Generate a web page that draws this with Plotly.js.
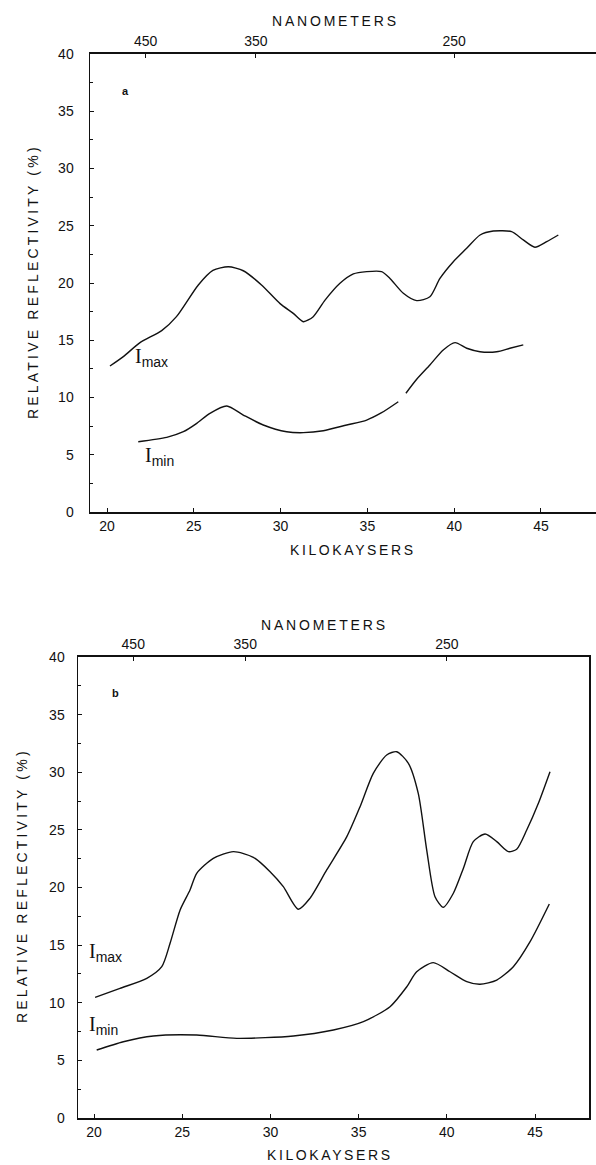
<!DOCTYPE html>
<html>
<head>
<meta charset="utf-8">
<script src="https://cdn.plot.ly/plotly-3.0.1.min.js"></script>
<style>
  html, body { margin: 0; padding: 0; background: #fff; }
  #chart { width: 596px; height: 1165px; }
</style>
</head>
<body>
<div id="chart"></div>
<script>
// ---- Panel a (top) ----
const topMaxX = [20.17, 20.94, 21.9, 23.15, 24.0, 25.26, 26.1, 26.99, 27.85, 28.9, 29.97, 30.73, 31.31, 31.88, 32.56, 33.42, 34.19, 34.96, 35.82, 36.3, 37.07, 37.84, 38.6, 39.18, 39.95, 40.72, 41.49, 42.25, 43.31, 43.98, 44.65, 45.33, 46.0];
const topMaxY = [12.75, 13.57, 14.79, 15.84, 17.06, 19.83, 21.1, 21.42, 21.07, 19.83, 18.2, 17.35, 16.62, 17.06, 18.5, 19.97, 20.79, 20.99, 20.99, 20.4, 19.1, 18.46, 18.8, 20.4, 21.86, 23.03, 24.19, 24.54, 24.48, 23.76, 23.12, 23.61, 24.19];
const topMinX = [21.8, 23.44, 24.4, 25.17, 25.93, 26.9, 27.85, 29.0, 30.35, 31.31, 32.46, 33.81, 34.96, 35.82, 36.78, null, 37.22, 37.84, 38.6, 39.37, 40.05, 40.72, 41.49, 42.45, 43.21, 43.98];
const topMinY = [6.14, 6.52, 7.01, 7.74, 8.62, 9.26, 8.47, 7.6, 7.01, 6.93, 7.1, 7.6, 8.03, 8.67, 9.63, null, 10.37, 11.59, 12.84, 14.15, 14.79, 14.3, 14.0, 14.0, 14.3, 14.59];

// ---- Panel b (bottom) ----
const botMaxX = [20.06, 21.47, 22.99, 23.84, 24.31, 24.88, 25.44, 25.82, 26.76, 27.9, 29.03, 29.98, 30.73, 31.58, 32.24, 33.19, 34.33, 35.08, 35.83, 36.59, 37.16, 37.82, 38.38, 38.86, 39.33, 39.8, 40.37, 40.94, 41.5, 42.17, 42.83, 43.49, 43.96, 44.53, 45.19, 45.85];
const botMaxY = [10.47, 11.25, 12.12, 13.13, 15.16, 18.05, 19.78, 21.23, 22.53, 23.11, 22.62, 21.37, 20.07, 18.11, 19.06, 21.52, 24.41, 27.01, 29.91, 31.5, 31.78, 30.78, 28.17, 23.25, 19.2, 18.28, 19.5, 21.67, 23.98, 24.64, 23.98, 23.11, 23.32, 24.99, 27.31, 30.05];
const botMinX = [20.15, 21.66, 23.36, 25.82, 28.09, 31.3, 33.57, 35.27, 36.78, 37.73, 38.29, 39.23, 40.18, 41.13, 41.88, 42.83, 43.77, 44.72, 45.81];
const botMinY = [5.9, 6.62, 7.12, 7.2, 6.91, 7.12, 7.64, 8.36, 9.66, 11.39, 12.69, 13.48, 12.69, 11.83, 11.6, 11.97, 13.13, 15.3, 18.57];

// ---- Axis ticks ----
const kkTicks = [20, 25, 30, 35, 40, 45];
const yTicks = [0, 5, 10, 15, 20, 25, 30, 35, 40];
const nmTicks = [450, 350, 250];
const nmTickPos = nmTicks.map(n => 1e4 / n);   // nanometers -> kilokaysers
const nmTickText = nmTicks.map(String);

const xRangeA = [19.02, 48.17];
const xRangeB = [19.09, 48.06];
const yRange = [0, 40];

const FONT = 'Liberation Sans, Arial, sans-serif';
const INK = '#111';

const line = {color: INK, width: 1.4, shape: 'spline', smoothing: 0.7};

const traces = [
  {x: topMaxX, y: topMaxY, xaxis: 'x', yaxis: 'y', mode: 'lines', line: line, name: 'Imax (a)', showlegend: false},
  {x: topMinX, y: topMinY, xaxis: 'x', yaxis: 'y', mode: 'lines', line: line, name: 'Imin (a)', showlegend: false, connectgaps: false},
  {x: [null], y: [null], xaxis: 'x2', yaxis: 'y', mode: 'lines', showlegend: false, hoverinfo: 'skip'},
  {x: botMaxX, y: botMaxY, xaxis: 'x3', yaxis: 'y2', mode: 'lines', line: line, name: 'Imax (b)', showlegend: false},
  {x: botMinX, y: botMinY, xaxis: 'x3', yaxis: 'y2', mode: 'lines', line: line, name: 'Imin (b)', showlegend: false},
  {x: [null], y: [null], xaxis: 'x4', yaxis: 'y2', mode: 'lines', showlegend: false, hoverinfo: 'skip'}
];

const tickFont = {family: FONT, size: 14, color: INK};

function kkAxis(domain, range, anchor) {
  return {
    domain: domain, range: range, anchor: anchor,
    tickmode: 'array', tickvals: kkTicks, ticktext: kkTicks.map(String),
    ticks: 'inside', ticklen: 4, tickwidth: 1, tickcolor: INK,
    showline: true, linecolor: INK, linewidth: 2,
    showgrid: false, zeroline: false, tickfont: tickFont
  };
}
function nmAxis(overlay, range, anchor) {
  return {
    overlaying: overlay, side: 'top', range: range, anchor: anchor,
    tickmode: 'array', tickvals: nmTickPos, ticktext: nmTickText,
    ticks: 'inside', ticklen: 4, tickwidth: 1, tickcolor: INK,
    showline: true, linecolor: INK, linewidth: 2,
    showgrid: false, zeroline: false, tickfont: tickFont
  };
}
function yAx(domain, anchor, mirror, standoff) {
  return {
    domain: domain, range: yRange, anchor: anchor,
    tickmode: 'array', tickvals: yTicks, ticktext: yTicks.map(String),
    ticks: 'inside', ticklen: 4, tickwidth: 1, tickcolor: INK,
    minor: {dtick: 2.5, ticks: 'inside', ticklen: 3, tickcolor: INK, showgrid: false},
    showline: true, linecolor: INK, linewidth: 1.5, mirror: mirror,
    showgrid: false, zeroline: false, tickfont: tickFont,
    ticklabelstandoff: standoff
  };
}

const W = 596, H = 1165;
const px = v => v / W;          // pixel -> paper x
const py = v => 1 - v / H;      // pixel -> paper y

function spaced(text, ls) {
  return '<span style="letter-spacing:' + ls + 'px">' + text + '</span>';
}
function titleAnn(text, xPix, yPix, size, ls, angle) {
  return {xref: 'paper', yref: 'paper', x: px(xPix), y: py(yPix), xanchor: 'center', yanchor: 'middle',
          showarrow: false, textangle: angle || 0, text: spaced(text, ls),
          font: {family: FONT, size: size, color: INK}};
}
function iAnn(sub, xref, yref, x, y) {
  return {xref: xref, yref: yref, x: x, y: y, xanchor: 'left', yanchor: 'top', showarrow: false,
          text: '<span style="font-family:Liberation Serif">I</span><sub>' + sub + '</sub>',
          font: {family: FONT, size: 20, color: INK}};
}

const layout = {
  width: W, height: H,
  margin: {l: 0, r: 0, t: 0, b: 0},
  paper_bgcolor: '#fff', plot_bgcolor: '#fff',
  showlegend: false,
  xaxis: kkAxis([px(90), 1], xRangeA, 'y'),
  xaxis2: nmAxis('x', xRangeA, 'y'),
  yaxis: yAx([py(512), py(54)], 'x', false, 12),
  xaxis3: kkAxis([px(78), px(589)], xRangeB, 'y2'),
  xaxis4: nmAxis('x3', xRangeB, 'y2'),
  yaxis2: yAx([py(1118), py(657)], 'x3', true, 9),
  annotations: [
    titleAnn('NANOMETERS', 335, 21, 14, 2.8),
    titleAnn('KILOKAYSERS', 353, 550, 14, 2.6),
    titleAnn('RELATIVE REFLECTIVITY (%)', 33, 282, 14, 3.2, -90),
    titleAnn('NANOMETERS', 324, 625, 14, 2.8),
    titleAnn('KILOKAYSERS', 330, 1155, 14, 2.6),
    titleAnn('RELATIVE REFLECTIVITY (%)', 22, 886, 14, 3.2, -90),
    {xref: 'paper', yref: 'paper', x: px(120), y: py(83), text: '<b>a</b>', showarrow: false, font: {family: FONT, size: 11, color: INK}},
    {xref: 'paper', yref: 'paper', x: px(110), y: py(693), text: '<b>b</b>', showarrow: false, font: {family: FONT, size: 11, color: INK}},
    iAnn('max', 'x', 'y', 21.5, 14.8),
    iAnn('min', 'x', 'y', 22.1, 6.1),
    iAnn('max', 'x3', 'y2', 19.6, 15.6),
    iAnn('min', 'x3', 'y2', 19.6, 9.3)
  ]
};

Plotly.newPlot('chart', traces, layout, {staticPlot: true, displayModeBar: false});
</script>
</body>
</html>
